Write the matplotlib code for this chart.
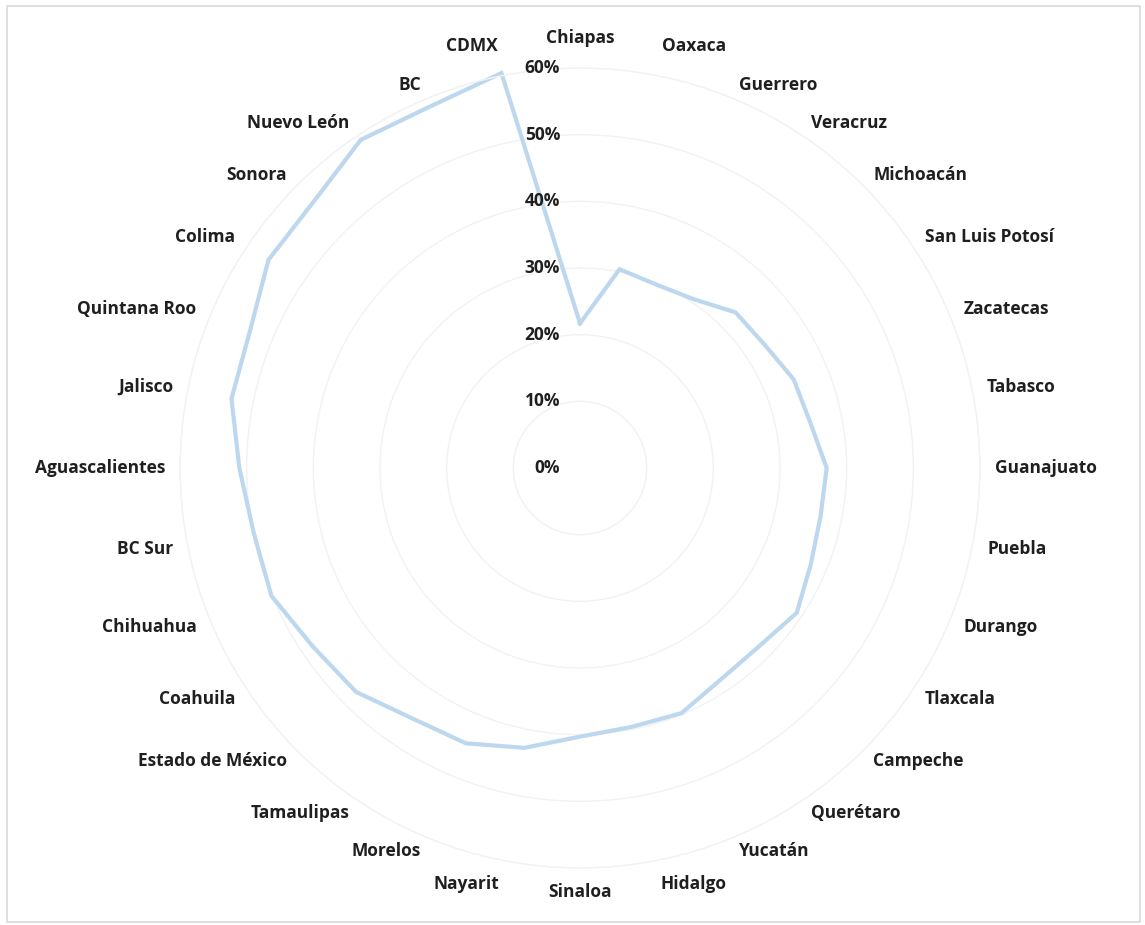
import matplotlib.pyplot as plt
import matplotlib.transforms as mtransforms
from matplotlib.patches import Rectangle
import numpy as np

plt.rcParams['font.family'] = ['Open Sans', 'DejaVu Sans']

estados = [
    "Chiapas", "Oaxaca", "Guerrero", "Veracruz", "Michoacán", "San Luis Potosí",
    "Zacatecas", "Tabasco", "Guanajuato", "Puebla", "Durango", "Tlaxcala",
    "Campeche", "Querétaro", "Yucatán", "Hidalgo", "Sinaloa", "Nayarit",
    "Morelos", "Tamaulipas", "Estado de México", "Coahuila", "Chihuahua",
    "BC Sur", "Aguascalientes", "Jalisco", "Quintana Roo", "Colima", "Sonora",
    "Nuevo León", "BC", "CDMX",
]

porcentaje = [
    21.7, 30.4, 29.8, 30.5, 33.0, 33.3, 34.7, 35.2, 37.0, 36.8, 37.5, 39.1,
    37.9, 38.1, 39.8, 39.6, 40.3, 42.8, 44.7, 45.2, 47.5, 48.2, 50.1, 49.9,
    51.1, 53.3, 53.6, 56.2, 56.5, 59.2, 58.7, 60.4,
]

r_ticks = [0, 10, 20, 30, 40, 50, 60]
r_tick_labels = ["0%", "10%", "20%", "30%", "40%", "50%", "60%"]

values = np.array(porcentaje) / 100.0
n = len(estados)
angles = np.linspace(0, 2 * np.pi, n, endpoint=False)

fig = plt.figure(figsize=(11.45, 9.25), dpi=100)
fig.patch.set_facecolor("white")
fig.patches.append(Rectangle((7 / 1145, 3 / 925), 1133 / 1145, 916 / 925,
                             transform=fig.transFigure, fill=False,
                             edgecolor="#d9d9d9", linewidth=1.2))

ax = fig.add_axes([180 / 1145, 57 / 925, 800 / 1145, 800 / 925], polar=True)
ax.set_theta_zero_location("N")
ax.set_theta_direction(-1)
ax.set_ylim(0, 0.6)

# circular gridlines only, no spokes
ax.set_xticks([])
ax.set_yticks([t / 100 for t in r_ticks[1:]])
ax.set_yticklabels([])
ax.yaxis.grid(True, color="#f2f2f2", linewidth=1.0)
ax.xaxis.grid(False)
ax.spines["polar"].set_color("#f2f2f2")
ax.spines["polar"].set_linewidth(1.0)
ax.set_facecolor("white")

closed_a = np.append(angles, angles[0])
closed_v = np.append(values, values[0])
ax.plot(closed_a, closed_v, color="#bdd7ee", linewidth=3.0,
        solid_joinstyle="miter", clip_on=False)

# percentage labels just left of the vertical axis
offset = mtransforms.offset_copy(ax.transData, fig=fig, x=-20, y=0, units="dots")
for t, lab in zip(r_ticks, r_tick_labels):
    ax.text(0, t / 100, lab, transform=offset, ha="right", va="center",
            fontsize=12.5, fontweight="bold", color="#1f1f1f")

# category labels around the outer ring
r_lab = 0.6 * 415 / 400
for a, name in zip(angles, estados):
    s, c = np.sin(a), np.cos(a)
    if abs(s) < 0.1:
        ha = "center"
    elif s > 0:
        ha = "left"
    else:
        ha = "right"
    r = r_lab
    if c > 0.95:
        va = "bottom"
        r = 0.6 * 421 / 400
    elif c < -0.95:
        va = "top"
    else:
        va = "center"
    ax.text(a, r, name, ha=ha, va=va, fontsize=12.5, fontweight="bold",
            color="#1f1f1f")

fig.savefig("out.png", dpi=100)
plt.close(fig)
